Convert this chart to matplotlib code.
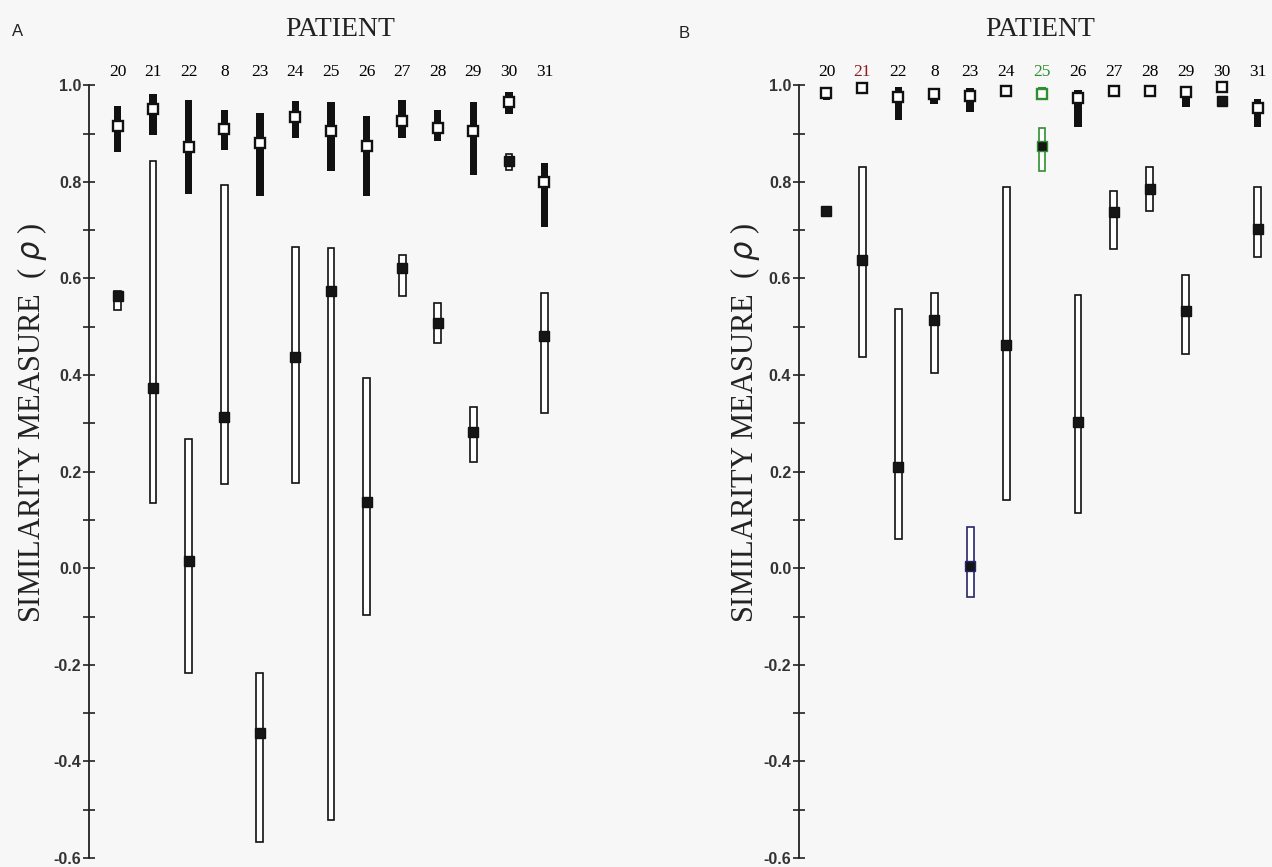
import numpy as np
import matplotlib
matplotlib.use("Agg")
import matplotlib.pyplot as plt
from matplotlib.ticker import MultipleLocator

# patient order along the top
patients = ['20', '21', '22', '8', '23', '24', '25', '26', '27', '28', '29', '30', '31']

# panel A - black bars with open median square
a_in_lo = [0.861, 0.897, 0.774, 0.866, 0.770, 0.890, 0.822, 0.770, 0.891, 0.885, 0.814, 0.940, 0.707]
a_in_hi = [0.958, 0.983, 0.970, 0.948, 0.943, 0.968, 0.965, 0.937, 0.970, 0.949, 0.965, 0.987, 0.840]
a_in_med = [0.916, 0.950, 0.872, 0.910, 0.880, 0.934, 0.905, 0.874, 0.926, 0.911, 0.906, 0.966, 0.799]
# panel A - open bars with filled median square
a_bt_lo = [0.535, 0.136, -0.216, 0.175, -0.566, 0.177, -0.521, -0.097, 0.563, 0.466, 0.219, 0.824, 0.322]
a_bt_hi = [0.575, 0.843, 0.267, 0.793, -0.217, 0.666, 0.663, 0.393, 0.648, 0.549, 0.334, 0.857, 0.570]
a_bt_med = [0.563, 0.373, 0.015, 0.314, -0.342, 0.437, 0.575, 0.137, 0.622, 0.507, 0.282, 0.843, 0.480]

# panel B
b_in_lo = [0.969, None, 0.928, 0.961, 0.944, None, 0.969, 0.914, None, None, 0.955, None, 0.914]
b_in_hi = [0.997, None, 0.997, 0.993, 0.994, None, 0.996, 0.990, None, None, 0.996, None, 0.971]
b_in_med = [0.985, 0.994, 0.975, 0.983, 0.978, 0.989, 0.983, 0.974, 0.989, 0.989, 0.987, 0.997, 0.954]
b_bt_lo = [None, 0.437, 0.060, 0.404, -0.060, 0.142, 0.823, 0.114, 0.661, 0.740, 0.443, None, 0.644]
b_bt_hi = [None, 0.831, 0.537, 0.569, 0.086, 0.789, 0.912, 0.565, 0.781, 0.831, 0.608, None, 0.789]
b_bt_med = [0.739, 0.638, 0.209, 0.515, 0.005, 0.463, 0.874, 0.303, 0.738, 0.785, 0.533, 0.968, 0.703]

yticks = [1.0, 0.8, 0.6, 0.4, 0.2, 0.0, -0.2, -0.4, -0.6]
ytick_labels = ['1.0', '0.8', '0.6', '0.4', '0.2', '0.0', '-0.2', '-0.4', '-0.6']

SERIF = 'Liberation Serif'
SANS = 'Liberation Sans'
GREEN = '#2f8f2f'
RED = '#8b1f1f'
NAVY = '#26266e'


def arr(v):
    return np.array([np.nan if e is None else e for e in v], dtype=float)


def draw_panel(ax, in_lo, in_hi, in_med, bt_lo, bt_hi, bt_med, colors, bt_colors):
    x = np.arange(len(patients))
    in_lo, in_hi, in_med = arr(in_lo), arr(in_hi), arr(in_med)
    bt_lo, bt_hi, bt_med = arr(bt_lo), arr(bt_hi), arr(bt_med)

    # open bars + filled squares
    m = ~np.isnan(bt_lo)
    ax.bar(x[m], (bt_hi - bt_lo)[m], bottom=bt_lo[m], width=0.19,
           facecolor='white', edgecolor=[bt_colors[i] for i in x[m]],
           linewidth=1.2, zorder=2, clip_on=False)
    for i in x:
        ax.plot(x[i], bt_med[i], 's', ms=7.5, mfc='#151515',
                mec=bt_colors[i], mew=1.0, zorder=3, clip_on=False)

    # black bars + open squares
    m = ~np.isnan(in_lo)
    ax.bar(x[m], (in_hi - in_lo)[m], bottom=in_lo[m], width=0.21,
           color=[colors[i] for i in x[m]], linewidth=0, zorder=4, clip_on=False)
    for i in x:
        ax.plot(x[i], in_med[i], 's', ms=6.5, mfc='white',
                mec=colors[i], mew=1.7, zorder=5, clip_on=False)

    ax.set_ylim(-0.6, 1.0)
    ax.set_yticks(yticks)
    ax.set_yticklabels(ytick_labels, fontfamily=SANS, fontweight='bold',
                       fontsize=11.5, color='#333333')
    ax.yaxis.set_minor_locator(MultipleLocator(0.1))
    ax.tick_params(axis='y', which='both', direction='inout', length=9,
                   width=1.2, color='#222222', pad=1)
    ax.set_xticks(x)
    ax.set_xticklabels(patients, fontfamily=SERIF, fontsize=12.5)
    ax.xaxis.tick_top()
    ax.tick_params(axis='x', length=0, pad=4)
    for s in ['top', 'right', 'bottom']:
        ax.spines[s].set_visible(False)
    ax.spines['left'].set_linewidth(1.3)
    ax.spines['left'].set_color('#222222')
    ax.patch.set_alpha(0)


fig = plt.figure(figsize=(12.72, 8.67), dpi=100, facecolor='#f7f7f7')

ax_a = fig.add_axes([0.070, 0.0104, 0.400, 0.8912])
cols_a = ['#111111'] * len(patients)
draw_panel(ax_a, a_in_lo, a_in_hi, a_in_med, a_bt_lo, a_bt_hi, a_bt_med, cols_a, cols_a)
ax_a.set_xlim(-0.8, 13.5)

ax_b = fig.add_axes([0.628, 0.0104, 0.372, 0.8912])
cols_b = ['#111111'] * len(patients)
cols_b[6] = GREEN
bt_cols_b = ['#111111'] * len(patients)
bt_cols_b[6] = GREEN
bt_cols_b[4] = NAVY
draw_panel(ax_b, b_in_lo, b_in_hi, b_in_med, b_bt_lo, b_bt_hi, b_bt_med, cols_b, bt_cols_b)
ax_b.set_xlim(-0.77, 12.4)
lbls = ax_b.get_xticklabels()
lbls[1].set_color(RED)
lbls[6].set_color(GREEN)

for ax, cx in [(ax_a, 0.025), (ax_b, 0.586)]:
    fig.text(cx, 0.512, 'SIMILARITY MEASURE  ( $\\rho$ )', rotation=90,
             ha='center', va='center', fontfamily=SERIF, fontsize=22,
             color='#222222')

fig.text(340 / 1272, 1 - 29 / 867, 'PATIENT', ha='center', va='center',
         fontfamily=SERIF, fontsize=20, color='#222222')
fig.text(1040 / 1272, 1 - 29 / 867, 'PATIENT', ha='center', va='center',
         fontfamily=SERIF, fontsize=20, color='#222222')
fig.text(18 / 1272, 1 - 32 / 867, 'A', ha='center', va='center',
         fontfamily=SANS, fontsize=12, color='#222222')
fig.text(684 / 1272, 1 - 33 / 867, 'B', ha='center', va='center',
         fontfamily=SANS, fontsize=12, color='#222222')

fig.savefig('out.png', dpi=100, facecolor=fig.get_facecolor())
